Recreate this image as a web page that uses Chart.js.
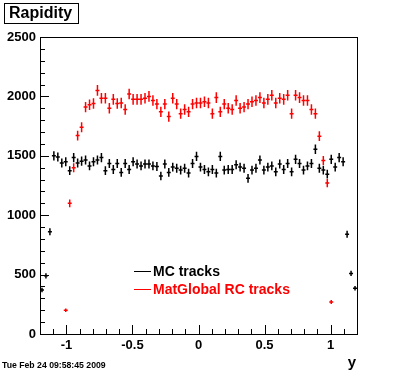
<!DOCTYPE html>
<html>
<head>
<meta charset="utf-8">
<script src="https://cdn.jsdelivr.net/npm/chart.js@4.4.0/dist/chart.umd.min.js"></script>
<style>
  body { margin: 0; background: #fff; }
  canvas { display: block; }
</style>
</head>
<body>
<canvas id="rapidity" width="396" height="372"></canvas>
<script>
// histogram binning: 80 bins from -1.2 to 1.2
const binLow = -1.2;
const binWidth = 0.03;

// bin contents
const mcTracks = [
  370, 490, 860, 1500, 1490, 1440, 1450, 1375, 1485, 1440,
  1455, 1465, 1415, 1450, 1465, 1485, 1375, 1435, 1385, 1435,
  1360, 1435, 1385, 1450, 1430, 1415, 1430, 1430, 1415, 1410,
  1330, 1430, 1360, 1405, 1395, 1380, 1395, 1355, 1435, 1495,
  1405, 1385, 1365, 1385, 1355, 1495, 1380, 1385, 1385, 1425,
  1405, 1395, 1310, 1380, 1395, 1465, 1380, 1405, 1415, 1365,
  1430, 1385, 1435, 1365, 1470, 1435, 1380, 1415, 1435, 1555,
  1395, 1380, 1345, 1470, 1405, 1485, 1450, 840, 510, 385
];
const rcTracks = [
  0, 0, 0, 0, 0, 0, 200, 1100, 1400, 1670,
  1740, 1910, 1930, 1940, 2050, 1985, 1985, 1900, 1975, 1940,
  1945, 1890, 2020, 1975, 1975, 1975, 1985, 2000, 1965, 1935,
  1870, 1935, 1830, 1985, 1935, 1855, 1890, 1870, 1935, 1945,
  1945, 1955, 1945, 1855, 1990, 1870, 1935, 1900, 1890, 1965,
  1900, 1910, 1935, 1955, 1965, 1990, 1945, 1975, 2010, 1945,
  1985, 1975, 2010, 1855, 2010, 1990, 1965, 1965, 1890, 1855,
  1665, 1460, 1270, 270, 0, 0, 0, 0, 0, 0
];

const xTickValues = [-1, -0.5, 0, 0.5, 1];
const yTickValues = [0, 500, 1000, 1500, 2000, 2500];
const seriesNames = ['MC tracks', 'MatGlobal RC tracks'];
const seriesColors = ['#000000', '#ff0000'];

function toPoints(values) {
  return values.map((v, i) => ({ x: binLow + binWidth * (i + 0.5), y: v }));
}

const FONT = '"Liberation Sans", Arial, Helvetica, sans-serif';

// crosses: vertical = sqrt(N) error, horizontal = bin width
const errorBars = {
  id: 'errorBars',
  afterDatasetsDraw(chart) {
    const ctx = chart.ctx;
    const xs = chart.scales.x, ys = chart.scales.y;
    chart.data.datasets.forEach(ds => {
      ctx.save();
      ctx.strokeStyle = ds.borderColor;
      ctx.lineWidth = 1.5;
      ds.data.forEach(p => {
        if (!p.y) return;
        const err = Math.sqrt(p.y);
        const xc = xs.getPixelForValue(p.x);
        const yc = ys.getPixelForValue(p.y);
        ctx.beginPath();
        ctx.moveTo(xs.getPixelForValue(p.x - binWidth / 2), yc);
        ctx.lineTo(xs.getPixelForValue(p.x + binWidth / 2), yc);
        ctx.moveTo(xc, ys.getPixelForValue(p.y - err));
        ctx.lineTo(xc, ys.getPixelForValue(p.y + err));
        ctx.stroke();
      });
      ctx.restore();
    });
  }
};

// ROOT style frame, inside ticks, title box, legend, date stamp
const rootDecor = {
  id: 'rootDecor',
  afterDraw(chart) {
    const ctx = chart.ctx;
    const a = chart.chartArea;
    const xs = chart.scales.x, ys = chart.scales.y;
    ctx.save();
    ctx.strokeStyle = '#000';
    ctx.lineWidth = 1;
    ctx.strokeRect(Math.round(a.left) + 0.5, Math.round(a.top) + 0.5,
      Math.round(a.right - a.left), Math.round(a.bottom - a.top));

    ctx.beginPath();
    for (let v = 0; v <= 2500; v += 100) {
      const y = Math.round(ys.getPixelForValue(v)) + 0.5;
      const len = v % 500 === 0 ? 9 : 5;
      ctx.moveTo(a.left, y);
      ctx.lineTo(a.left + len, y);
    }
    for (let k = -12; k <= 12; k++) {
      const x = Math.round(xs.getPixelForValue(k / 10)) + 0.5;
      const len = k % 5 === 0 ? 9 : 5;
      ctx.moveTo(x, a.bottom);
      ctx.lineTo(x, a.bottom - len);
    }
    ctx.stroke();

    // title box
    ctx.fillStyle = '#fff';
    ctx.fillRect(4, 3, 74, 20);
    ctx.strokeRect(4.5, 3.5, 74, 20);
    ctx.fillStyle = '#000';
    ctx.font = 'bold 16px ' + FONT;
    ctx.textBaseline = 'middle';
    ctx.textAlign = 'left';
    ctx.fillText('Rapidity', 9, 14);

    // legend
    ctx.font = 'bold 14px ' + FONT;
    seriesNames.forEach((name, i) => {
      const y = 271 + i * 18;
      ctx.strokeStyle = seriesColors[i];
      ctx.beginPath();
      ctx.moveTo(134, y + 0.5);
      ctx.lineTo(151, y + 0.5);
      ctx.stroke();
      ctx.fillStyle = seriesColors[i];
      ctx.fillText(name, 153, y + 1);
    });

    // axis title
    ctx.fillStyle = '#000';
    ctx.font = 'bold 15px ' + FONT;
    ctx.textAlign = 'right';
    ctx.fillText('y', 356, 363);

    // date stamp
    ctx.font = 'bold 8.7px ' + FONT;
    ctx.textAlign = 'left';
    ctx.fillText('Tue Feb 24 09:58:45 2009', 2, 366);
    ctx.restore();
  }
};

new Chart(document.getElementById('rapidity'), {
  type: 'scatter',
  data: {
    datasets: [
      { label: seriesNames[0], data: toPoints(mcTracks), borderColor: seriesColors[0], backgroundColor: seriesColors[0], pointRadius: 0, showLine: false },
      { label: seriesNames[1], data: toPoints(rcTracks), borderColor: seriesColors[1], backgroundColor: seriesColors[1], pointRadius: 0, showLine: false }
    ]
  },
  options: {
    responsive: false,
    animation: false,
    layout: { padding: { top: 37, right: 39, left: 0, bottom: 0 } },
    plugins: { legend: { display: false }, tooltip: { enabled: false } },
    scales: {
      x: {
        type: 'linear', min: -1.2, max: 1.2,
        grid: { display: false, drawTicks: false },
        border: { display: false },
        ticks: { color: '#000', font: { family: FONT, size: 13, weight: 'bold' }, padding: 4, maxRotation: 0, autoSkip: false, callback: v => String(v) },
        afterBuildTicks: s => { s.ticks = xTickValues.map(v => ({ value: v })); },
        afterFit: s => { s.height = 38; }
      },
      y: {
        min: 0, max: 2500,
        grid: { display: false, drawTicks: false },
        border: { display: false },
        ticks: { color: '#000', font: { family: FONT, size: 13, weight: 'bold' }, padding: 4, autoSkip: false, callback: v => String(v) },
        afterBuildTicks: s => { s.ticks = yTickValues.map(v => ({ value: v })); },
        afterFit: s => { s.width = 40; }
      }
    }
  },
  plugins: [errorBars, rootDecor]
});
</script>
</body>
</html>
